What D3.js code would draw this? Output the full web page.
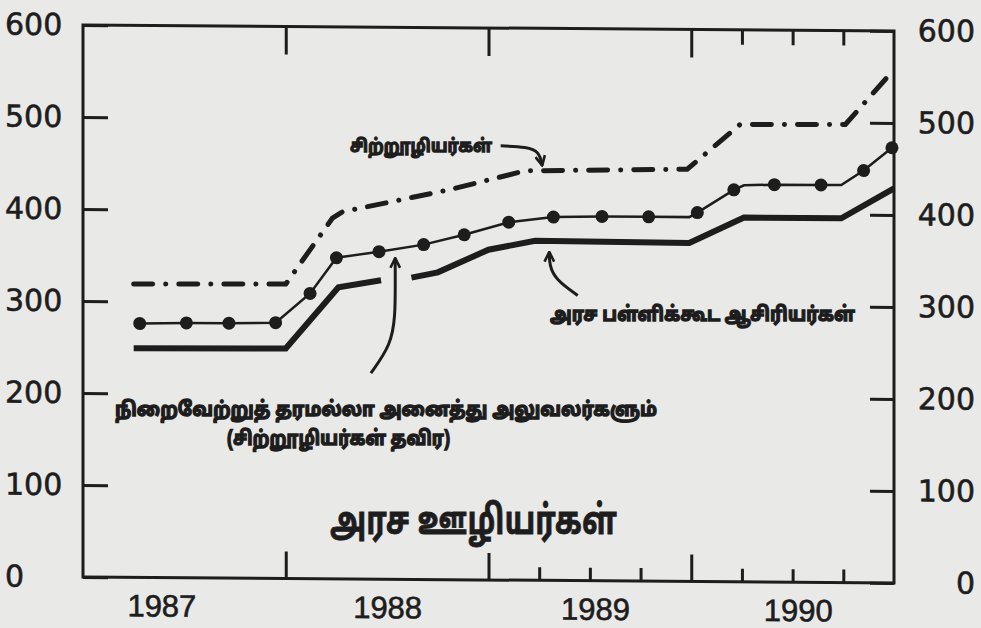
<!DOCTYPE html>
<html>
<head>
<meta charset="utf-8">
<title>அரச ஊழியர்கள்</title>
<script src="https://d3js.org/d3.v7.min.js"></script>
<style>
  body { margin: 0; background: #e9e9e7; }
  svg text { font-family: "DejaVu Sans", sans-serif; fill: #1d1d1d; }
  svg .ta { font-family: "Noto Sans Tamil", "Lohit Tamil", "Noto Sans", sans-serif; }
</style>
</head>
<body>
<svg id="chart" width="981" height="628"></svg>
<script>
// values, x as decimal year
var minorStaff = [[1987.25,319],[1988.0,320],[1988.23,392],[1988.28,399],[1988.81,424],
  [1989.18,445],[1989.98,448],[1990.24,497],[1990.76,498],[1991.0,558]]
var clericalDots = [[1987.28,276],[1987.51,277],[1987.72,277],[1987.95,278],[1988.12,310],
  [1988.25,349],[1988.46,356],[1988.68,364],[1988.88,375],[1989.10,389],[1989.32,395],
  [1989.56,396],[1989.79,396],[1990.03,401],[1990.21,426],[1990.41,432],[1990.64,432],
  [1990.85,448],[1990.99,473]]
var clericalBends = [[1989.99,396],[1990.26,431],[1990.74,432]]
// null = where the line is broken for the arrow
var teachers = [[1987.25,249],[1988.0,250],[1988.26,317],[1988.47,325],[1988.55,null],
  [1988.62,328],[1988.75,334],[1989.0,359],[1989.23,369],[1989.99,368],[1990.26,396],
  [1990.74,396],[1991.0,429]]

var yTicks = [0,100,200,300,400,500,600]
var yearTicks = [1988,1989,1990]
var quarterTicksBottom = [1989.25,1989.5,1989.75,1990.25,1990.5,1990.75]
var quarterTicksTop = [1990.25,1990.5,1990.75]
var yearLabels = ['1987','1988','1989','1990']

var arrowMinor = [[1989.06,472],[1989.19,471],[1989.25,466],[1989.265,451]]
var arrowTeacher = [[1989.44,310],[1989.33,327],[1989.30,343],[1989.30,357]]
var arrowClerical = [[1988.42,224],[1988.52,255],[1988.54,287],[1988.54,320],[1988.54,349]]

var ink = '#1d1d1d'
var margin = {top: 25, left: 83}
var w = 811, h = 552

var svg = d3.select('#chart')
// the scan is a little sheared, right side sits ~6px lower
var g = svg.append('g')
    .attr('transform', 'translate(' + margin.left + ',' + margin.top + ') skewY(0.42)')

var x = d3.scaleLinear().domain([1987, 1991]).range([0, w])
var y = d3.scaleLinear().domain([0, 600]).range([h, 0])

function styleAxis(sel) {
  sel.select('.domain').remove()
  sel.selectAll('line').attr('stroke', ink).attr('stroke-width', 3)
  sel.selectAll('text').style('font-size', '30px').attr('fill', ink)
    .attr('stroke', ink).attr('stroke-width', 0.6)
}

// left axis, labels left aligned at page edge
g.append('g')
    .call(d3.axisLeft(y).tickValues(yTicks).tickSize(-25))
    .call(styleAxis)
    .selectAll('text').attr('x', -78).attr('text-anchor', 'start')

// right axis
g.append('g')
    .attr('transform', 'translate(' + w + ',0)')
    .call(d3.axisRight(y).tickValues(yTicks).tickSize(-24))
    .call(styleAxis)
    .selectAll('text').attr('x', 81).attr('text-anchor', 'end')

// bottom ticks
g.append('g').attr('transform', 'translate(0,' + h + ')')
    .call(d3.axisBottom(x).tickValues(yearTicks).tickSize(-27).tickFormat(''))
    .call(styleAxis)
g.append('g').attr('transform', 'translate(0,' + h + ')')
    .call(d3.axisBottom(x).tickValues(quarterTicksBottom).tickSize(-13).tickFormat(''))
    .call(styleAxis)
g.append('g').attr('transform', 'translate(0,' + h + ')')
    .call(d3.axisBottom(x).tickValues([1987.5,1988.5,1989.5,1990.5]).tickSize(0).tickPadding(17)
      .tickFormat(function (d, i) { return yearLabels[i] }))
    .call(styleAxis)
    .selectAll('text')
    .style('font-family', '"Liberation Sans", sans-serif')
    .style('font-size', '31px')
    .attr('dx', function (d, i) { return [-23, 0, 5, 5][i] })

// top ticks
g.append('g')
    .call(d3.axisTop(x).tickValues(yearTicks).tickSize(-28).tickFormat(''))
    .call(styleAxis)
g.append('g')
    .call(d3.axisTop(x).tickValues(quarterTicksTop).tickSize(-15).tickFormat(''))
    .call(styleAxis)

// frame
g.append('rect')
    .attr('width', w).attr('height', h)
    .attr('fill', 'none').attr('stroke', ink).attr('stroke-width', 3)

var line = d3.line()
    .defined(function (d) { return d[1] !== null })
    .x(function (d) { return x(d[0]) })
    .y(function (d) { return y(d[1]) })

// dash-dot
g.append('path').datum(minorStaff)
    .attr('d', line)
    .attr('fill', 'none').attr('stroke', ink).attr('stroke-width', 5)
    .attr('stroke-linecap', 'round')
    .attr('stroke-dasharray', '19,13,0.1,13')

// dotted line
var clericalLine = clericalDots.concat(clericalBends).sort(function (a, b) { return a[0] - b[0] })
g.append('path').datum(clericalLine)
    .attr('d', line)
    .attr('fill', 'none').attr('stroke', ink).attr('stroke-width', 2.5)
g.selectAll('circle').data(clericalDots).enter()
  .append('circle')
    .attr('cx', function (d) { return x(d[0]) })
    .attr('cy', function (d) { return y(d[1]) })
    .attr('r', 6.5)
    .attr('fill', ink)

// thick solid
g.append('path').datum(teachers)
    .attr('d', line)
    .attr('fill', 'none').attr('stroke', ink).attr('stroke-width', 6)

// arrows
svg.append('defs').append('marker')
    .attr('id', 'head')
    .attr('viewBox', '0 0 10 10')
    .attr('refX', 9).attr('refY', 5)
    .attr('markerWidth', 12).attr('markerHeight', 12)
    .attr('markerUnits', 'userSpaceOnUse')
    .attr('orient', 'auto')
  .append('path')
    .attr('d', 'M1,1 L9,5 L1,9')
    .attr('fill', 'none').attr('stroke', ink).attr('stroke-width', 2.2)

var curve = d3.line().curve(d3.curveBasis)
    .x(function (d) { return x(d[0]) })
    .y(function (d) { return y(d[1]) });
[arrowMinor, arrowTeacher, arrowClerical].forEach(function (a) {
  g.append('path').datum(a)
      .attr('d', curve)
      .attr('fill', 'none').attr('stroke', ink).attr('stroke-width', 3)
      .attr('marker-end', 'url(#head)')
})

// labels (heavy black type in the scan, so they get a stroke too)
var labels = [
  {t: 'சிற்றூழியர்கள்', x: 350, y: 146, len: 142, size: 18, wt: 700, sw: 1.3},
  {t: 'அரச பள்ளிக்கூட ஆசிரியர்கள்', x: 550, y: 314, len: 305, size: 20, wt: 700, sw: 1.4},
  {t: 'நிறைவேற்றுத் தரமல்லா அனைத்து அலுவலர்களும்', x: 115, y: 409, len: 542, size: 20, wt: 700, sw: 1.4},
  {t: '(சிற்றூழியர்கள் தவிர)', x: 227, y: 438, len: 223, size: 20, wt: 700, sw: 1.4},
  {t: 'அரச ஊழியர்கள்', x: 330, y: 520, len: 287, size: 40, wt: 700, sw: 0.8}
]
svg.selectAll('text.ta').data(labels).enter()
  .append('text')
    .attr('class', 'ta')
    .attr('x', function (d) { return d.x })
    .attr('y', function (d) { return d.y })
    .attr('dy', '0.35em')
    .attr('textLength', function (d) { return d.len })
    .attr('lengthAdjust', 'spacingAndGlyphs')
    .attr('stroke', ink)
    .attr('stroke-width', function (d) { return d.sw })
    .style('font-size', function (d) { return d.size + 'px' })
    .style('font-weight', function (d) { return d.wt })
    .text(function (d) { return d.t })
</script>
</body>
</html>
